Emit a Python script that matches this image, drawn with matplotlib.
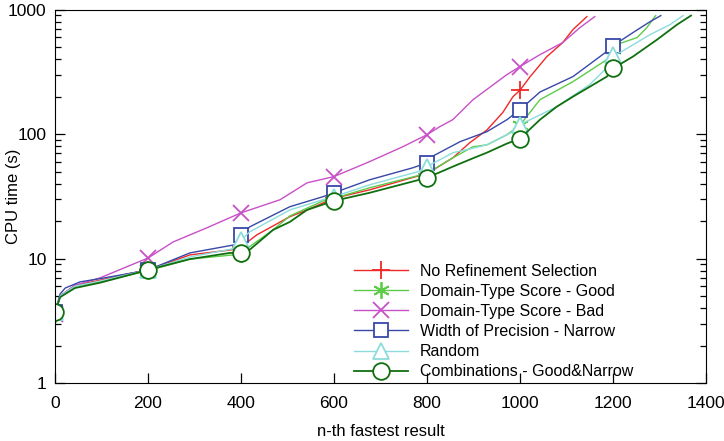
import matplotlib
matplotlib.use('Agg')
import matplotlib.pyplot as plt
from matplotlib.ticker import NullFormatter, LogLocator

plt.rcParams['font.family'] = ['Liberation Sans', 'DejaVu Sans']

# n-th fastest result vs CPU time (s)
red_x = [0, 11, 43, 97, 161, 200, 290, 383, 400, 434, 505, 542, 600, 677, 780, 800, 856, 892, 929, 963, 985, 1000, 1022, 1058, 1092, 1114, 1144]
red_y = [3.7, 5.0, 6.1, 6.7, 7.6, 8.1, 10.7, 11.8, 12.4, 15.5, 21.7, 24.6, 30.5, 35.7, 46.0, 48.0, 64.6, 85.3, 108, 149, 200, 225, 290, 420, 544, 692, 880]

good_x = [0, 11, 43, 97, 161, 200, 290, 383, 400, 419, 469, 505, 576, 600, 677, 780, 800, 856, 899, 929, 972, 1000, 1043, 1114, 1187, 1200, 1209, 1252, 1273, 1292]
good_y = [3.6, 5.0, 6.0, 6.5, 7.4, 8.0, 9.9, 10.7, 10.9, 12.5, 17.0, 22.0, 29.0, 30.5, 37.1, 46.3, 48.5, 64.6, 79.2, 82.0, 98.9, 118, 189, 264, 397, 480, 526, 597, 718, 897]

bad_x = [0, 11, 43, 97, 161, 200, 254, 327, 400, 484, 542, 600, 677, 748, 800, 828, 856, 899, 972, 1000, 1043, 1092, 1129, 1161]
bad_y = [3.6, 5.0, 6.1, 7.0, 8.8, 10.1, 13.6, 17.7, 23.3, 29.7, 40.6, 45.6, 60.2, 79.2, 98.9, 115, 131, 189, 301, 349, 435, 544, 718, 880]

narrow_x = [0, 11, 22, 54, 97, 161, 200, 290, 376, 391, 400, 419, 505, 576, 600, 677, 770, 800, 806, 871, 929, 972, 1000, 1043, 1114, 1187, 1200, 1243, 1280, 1303]
narrow_y = [3.7, 5.2, 5.8, 6.5, 6.9, 7.6, 8.1, 11.1, 12.7, 13.0, 15.5, 18.0, 26.1, 31.4, 33.8, 43.0, 53.7, 58.9, 64.6, 86.9, 104.7, 130.6, 157, 218, 290, 462, 514, 654, 802, 897]

random_x = [0, 11, 43, 97, 161, 200, 290, 383, 400, 419, 505, 576, 600, 677, 780, 800, 856, 899, 929, 985, 1000, 1022, 1079, 1150, 1187, 1200, 1215, 1280, 1323, 1351]
random_y = [3.7, 5.0, 6.0, 6.6, 7.5, 8.1, 10.3, 12.0, 14.1, 16.4, 24.6, 29.7, 31.4, 39.2, 49.8, 54.9, 70.9, 77.0, 82.2, 104.7, 119, 130.6, 166, 250, 342, 435, 452, 631, 759, 897]

comb_x = [0, 11, 43, 97, 161, 200, 290, 376, 400, 419, 469, 505, 542, 600, 677, 800, 856, 899, 929, 972, 1000, 1043, 1079, 1114, 1187, 1200, 1243, 1295, 1338, 1368]
comb_y = [3.7, 4.9, 5.8, 6.4, 7.4, 8.1, 9.9, 11.1, 11.1, 11.8, 17.0, 19.7, 24.6, 29.1, 33.8, 44.6, 54.9, 64.0, 71.0, 84.0, 92.0, 130.6, 166, 200, 290, 337, 420, 575, 759, 897]

labels = ['No Refinement Selection', 'Domain-Type Score - Good', 'Domain-Type Score - Bad',
          'Width of Precision - Narrow', 'Random', 'Combinations - Good&Narrow']
series = [(red_x, red_y), (good_x, good_y), (bad_x, bad_y),
          (narrow_x, narrow_y), (random_x, random_y), (comb_x, comb_y)]
colors = ['#f02828', '#5ccc48', '#c850c8', '#3848a8', '#8cdcdc', '#107010']
markers = ['+', (6, 2, 0), 'x', 's', '^', 'o']
msizes = [13, 12, 12, 10, 11, 12]
widths = [1.0, 1.0, 1.0, 1.0, 1.0, 1.3]

fig = plt.figure(figsize=(7.24, 4.41), dpi=100)
ax = fig.add_axes([0.076, 0.1315, 0.899, 0.8465])

for (xs, ys), lab, c, m, ms, lw in zip(series, labels, colors, markers, msizes, widths):
    idx = [i for i, v in enumerate(xs) if v % 200 == 0]
    ax.plot(xs, ys, color=c, lw=lw, marker=m, markevery=idx, markersize=ms,
            markerfacecolor='white' if m in ('s', '^', 'o') else c,
            markeredgecolor=c, markeredgewidth=1.3, label=lab)

ax.set_yscale('log')
ax.set_xlim(0, 1400)
ax.set_ylim(1, 1000)
ax.set_xticks(range(0, 1401, 200))
ax.set_yticks([1, 10, 100, 1000])
ax.set_yticklabels(['1', '10', '100', '1000'])
ax.yaxis.set_minor_locator(LogLocator(base=10, subs=range(2, 10)))
ax.yaxis.set_minor_formatter(NullFormatter())
ax.tick_params(which='both', direction='in', right=True, top=False, labelsize=12.5)
ax.tick_params(which='major', length=7, width=0.9)
ax.tick_params(which='minor', length=4, width=0.9)
ax.tick_params(axis='x', pad=9)
ax.tick_params(axis='y', pad=6)
ax.set_xlabel('n-th fastest result', fontsize=12)
ax.set_ylabel('CPU time (s)', fontsize=12)
ax.yaxis.set_label_coords(-0.052, 0.5)
ax.xaxis.set_label_coords(0.5, -0.11)

ax.legend(loc='upper left', frameon=False, fontsize=11.5, handlelength=3.4,
          handletextpad=0.7, labelspacing=0.32, borderpad=0, borderaxespad=0,
          bbox_to_anchor=(0.489, 0.402), bbox_transform=fig.transFigure)

fig.savefig('out.png', dpi=100)
